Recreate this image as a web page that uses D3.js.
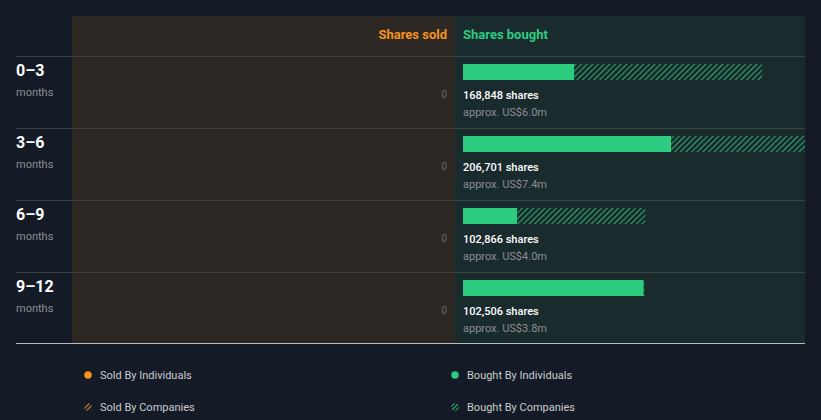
<!DOCTYPE html>
<html><head><meta charset="utf-8">
<script src="https://cdn.jsdelivr.net/npm/d3@7"></script>
<style>
html,body{margin:0;padding:0;background:#151b26;}
svg{display:block;font-family:Roboto,"Noto Sans",sans-serif;}
</style></head>
<body><svg id="c" width="821" height="420"></svg>
<script>
const periods = ["0\u20133","3\u20136","6\u20139","9\u201312"];
const soldTotal = [0,0,0,0];
const boughtTotal = [168848,206701,102866,102506];
const boughtIndividuals = [62700,117400,30500,101900];
const boughtValue = ["approx. US$6.0m","approx. US$7.4m","approx. US$4.0m","approx. US$3.8m"];
const legendItems = ["Sold By Individuals","Sold By Companies","Bought By Individuals","Bought By Companies"];

const svg = d3.select("#c");
const W=821,H=420;
const chartTop=16, headH=40, rowH=72;
const soldX0=72, midX=455, rightX=805;
const orange="#f7931a", green="#2ecc80";

const defs=svg.append("defs");
function hatch(id,color){
  const p=defs.append("pattern").attr("id",id).attr("patternUnits","userSpaceOnUse")
    .attr("width",4).attr("height",4).attr("patternTransform","rotate(45)");
  p.append("rect").attr("width",4).attr("height",4).attr("fill","#1a2b2e");
  p.append("line").attr("x1",0).attr("y1",0).attr("x2",0).attr("y2",4).attr("stroke",color).attr("stroke-width",1.6);
}
hatch("hg",green);
const po=defs.append("pattern").attr("id","ho").attr("patternUnits","userSpaceOnUse")
    .attr("width",3).attr("height",3).attr("patternTransform","rotate(45)");
po.append("rect").attr("width",3).attr("height",3).attr("fill","#151b26");
po.append("line").attr("x1",0).attr("y1",0).attr("x2",0).attr("y2",3).attr("stroke",orange).attr("stroke-width",1.8);
const pg=defs.append("pattern").attr("id","hg2").attr("patternUnits","userSpaceOnUse")
    .attr("width",3).attr("height",3).attr("patternTransform","rotate(45)");
pg.append("rect").attr("width",3).attr("height",3).attr("fill","#151b26");
pg.append("line").attr("x1",0).attr("y1",0).attr("x2",0).attr("y2",3).attr("stroke",green).attr("stroke-width",1.8);
defs.append("clipPath").attr("id","clipB").append("rect").attr("x",midX).attr("y",0).attr("width",rightX-midX).attr("height",H);

const bottom = chartTop+headH+rowH*periods.length-1;
svg.append("rect").attr("x",soldX0).attr("y",chartTop).attr("width",midX-soldX0).attr("height",bottom-chartTop).attr("fill","#2d2823");
svg.append("rect").attr("x",midX).attr("y",chartTop).attr("width",rightX-midX).attr("height",bottom-chartTop).attr("fill","#1a2b2e");

svg.append("text").attr("x",447).attr("y",39).attr("text-anchor","end").attr("fill",orange)
  .attr("font-size",13).attr("font-weight",700).text("Shares sold");
svg.append("text").attr("x",463).attr("y",39).attr("fill",green)
  .attr("font-size",13).attr("font-weight",700).text("Shares bought");

const y = d3.scaleBand().domain(periods).range([chartTop+headH, chartTop+headH+rowH*periods.length]).paddingInner(0).paddingOuter(0);
const x = d3.scaleLinear().domain([0,193000]).range([463,805]);

const g = svg.append("g");
periods.forEach((p,i)=>{
  const y0=y(p);
  g.append("line").attr("x1",16).attr("x2",rightX).attr("y1",y0+0.5).attr("y2",y0+0.5).attr("stroke","#3d4140").attr("stroke-width",1);
  g.append("text").attr("x",16).attr("y",y0+20).attr("fill","#ffffff").attr("font-size",16).attr("font-weight",700).text(p);
  g.append("text").attr("x",16).attr("y",y0+40).attr("fill","#8b8e92").attr("font-size",11).text("months");
  g.append("text").attr("x",447).attr("y",y0+42).attr("text-anchor","end").attr("fill","#6b6b6b").attr("font-size",10).text(soldTotal[i]);
  const bg=g.append("g").attr("clip-path","url(#clipB)");
  bg.append("rect").attr("x",x(0)).attr("y",y0+8).attr("width",x(boughtTotal[i])-x(0)).attr("height",16).attr("fill","url(#hg)");
  bg.append("rect").attr("x",x(0)).attr("y",y0+8).attr("width",x(boughtIndividuals[i])-x(0)).attr("height",16).attr("fill",green);
  g.append("text").attr("x",463).attr("y",y0+43).attr("fill","#ffffff").attr("font-size",11).attr("font-weight",500)
    .text(d3.format(",")(boughtTotal[i])+" shares");
  g.append("text").attr("x",463).attr("y",y0+60).attr("fill","#8b8e92").attr("font-size",11).text(boughtValue[i]);
});
svg.append("line").attr("x1",16).attr("x2",rightX).attr("y1",bottom+0.5).attr("y2",bottom+0.5).attr("stroke","#b8bcc0").attr("stroke-width",1);

const leg=[{x:88,y:375,fill:orange},{x:88,y:407,fill:"url(#ho)"},{x:455,y:375,fill:green},{x:455,y:407,fill:"url(#hg2)"}];
leg.forEach((d,i)=>{
  svg.append("circle").attr("cx",d.x).attr("cy",d.y).attr("r",3.8).attr("fill",d.fill);
  svg.append("text").attr("x",d.x+12).attr("y",d.y+4).attr("fill","#c8cbcf").attr("font-size",11).text(legendItems[i]);
});
</script></body></html>
